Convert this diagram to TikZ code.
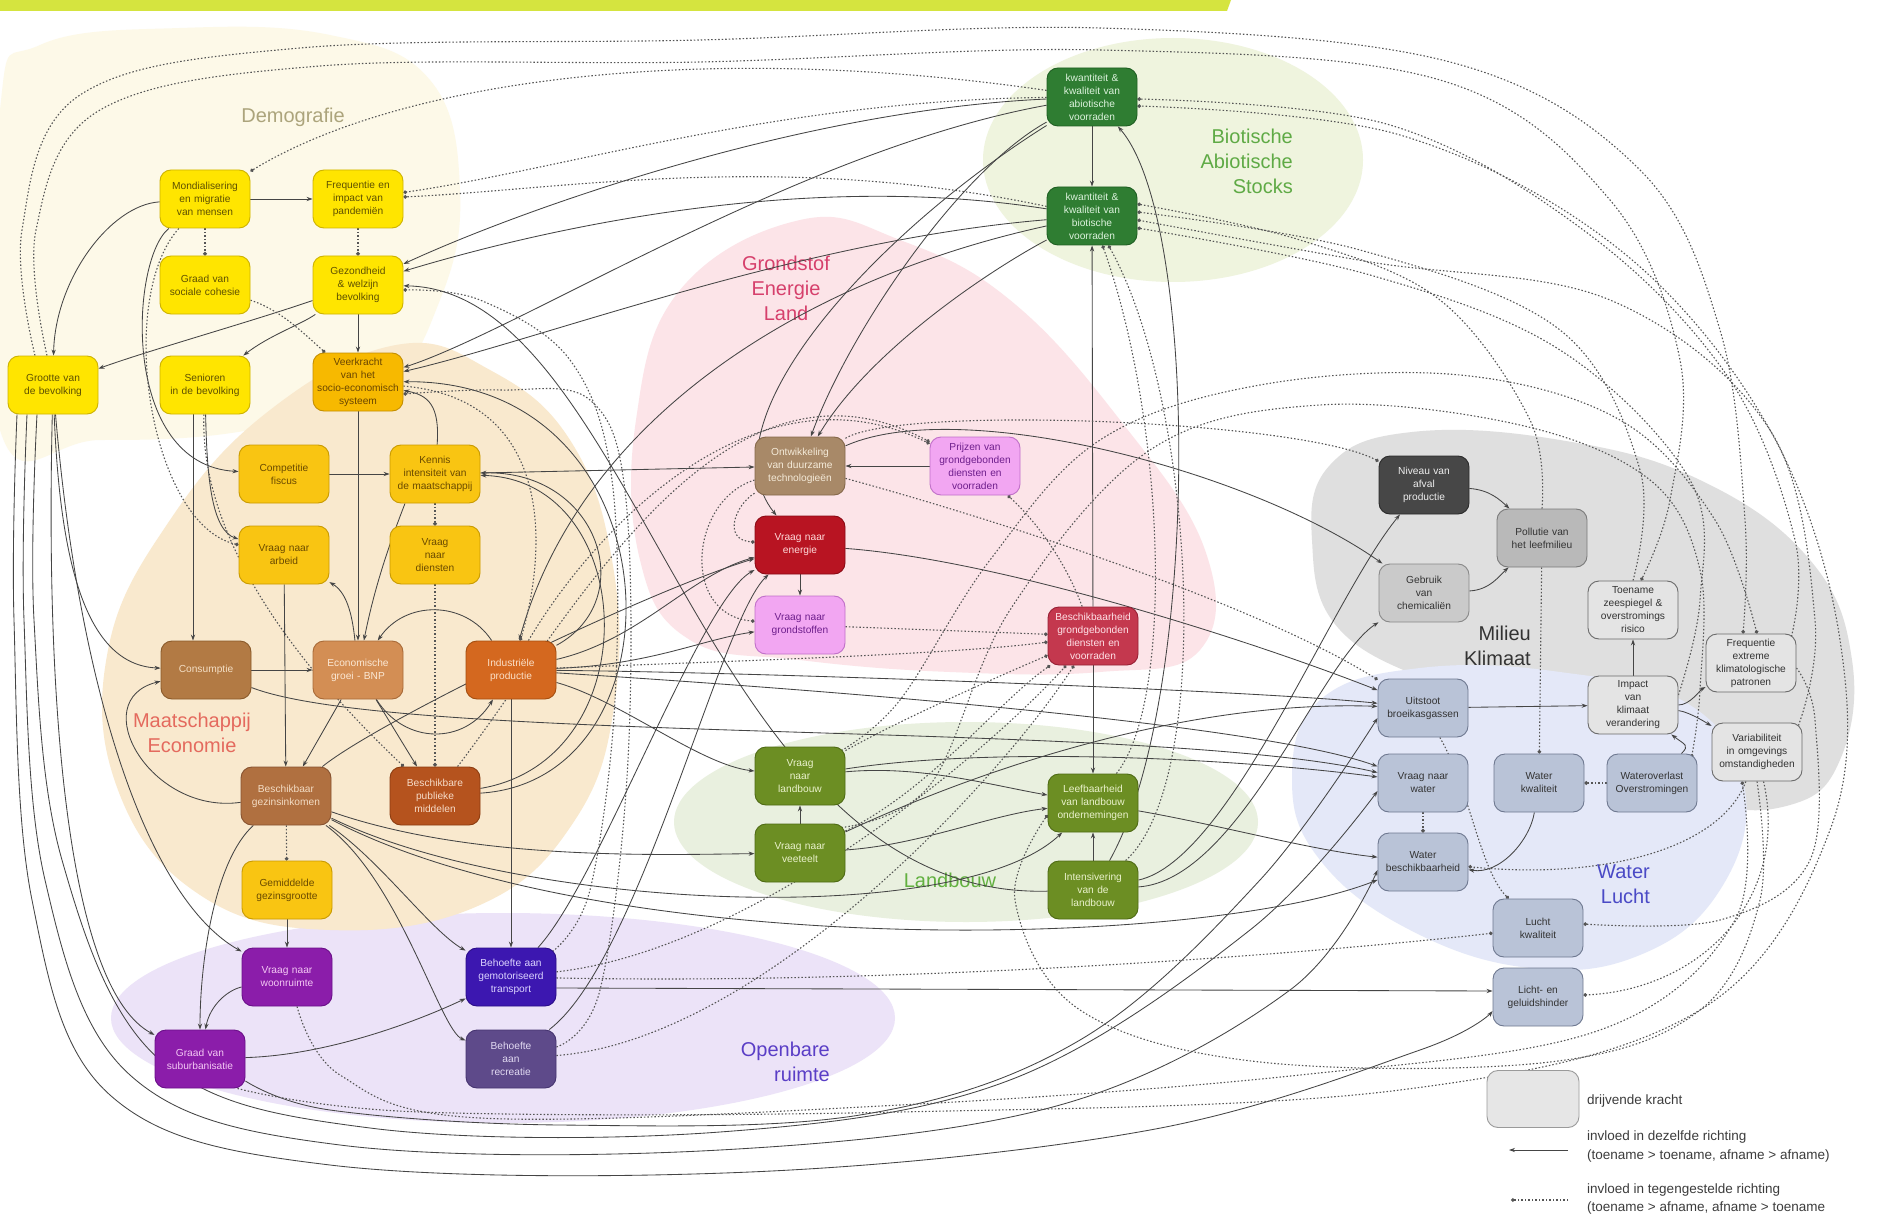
\documentclass[tikz,border=0pt]{standalone}
\usepackage{fontspec}
\setmainfont{Liberation Sans}
\usetikzlibrary{arrows.meta,calc}
\pgfdeclarelayer{bg}
\pgfdeclarelayer{edges}
\pgfsetlayers{bg,edges,main}
\definecolor{cBar}{HTML}{D5E43F}
\definecolor{cDemo}{HTML}{FDF9E8}
\definecolor{cEconBg}{HTML}{F9E9CE}
\definecolor{cGrondBg}{HTML}{FCE4E8}
\definecolor{cBioBg}{HTML}{EFF4DE}
\definecolor{cLandBg}{HTML}{E9F0DF}
\definecolor{cOpenBg}{HTML}{ECE3F8}
\definecolor{cMilBg}{HTML}{DFDFDF}
\definecolor{cWatBg}{HTML}{E4E8F8}
\definecolor{cDemoT}{HTML}{ACA47C}
\definecolor{cEconT}{HTML}{E46A5E}
\definecolor{cGrondT}{HTML}{D6406C}
\definecolor{cBioT}{HTML}{5FAA45}
\definecolor{cLandT}{HTML}{62B040}
\definecolor{cOpenT}{HTML}{5A3EC6}
\definecolor{cMilT}{HTML}{333333}
\definecolor{cWatT}{HTML}{4A4AC6}
\definecolor{cLine}{HTML}{454545}
\definecolor{cDash}{HTML}{555555}
\definecolor{cLeg}{HTML}{3C3C3C}
\definecolor{fYel}{HTML}{FFE500}\definecolor{dYel}{HTML}{CDB200}\definecolor{tYel}{HTML}{5E5000}
\definecolor{fVeer}{HTML}{F7B900}\definecolor{dVeer}{HTML}{C48E00}\definecolor{tVeer}{HTML}{6A4600}
\definecolor{fGold}{HTML}{F9C512}\definecolor{dGold}{HTML}{C99A00}\definecolor{tGold}{HTML}{6A4A00}
\definecolor{fCons}{HTML}{B27A44}\definecolor{dCons}{HTML}{8A5A2A}\definecolor{tCons}{HTML}{F3DEC4}
\definecolor{fEcon}{HTML}{D38E54}\definecolor{dEcon}{HTML}{A86A38}\definecolor{tEcon}{HTML}{FBE8D4}
\definecolor{fIndus}{HTML}{D4681F}\definecolor{dIndus}{HTML}{A44E10}\definecolor{tIndus}{HTML}{FBE0C8}
\definecolor{fInk}{HTML}{B07040}\definecolor{dInk}{HTML}{875230}\definecolor{tInk}{HTML}{F3DCC4}
\definecolor{fPubl}{HTML}{B5531E}\definecolor{dPubl}{HTML}{8C3C10}\definecolor{tPubl}{HTML}{F6DCC8}
\definecolor{fPurp}{HTML}{8B1DAA}\definecolor{dPurp}{HTML}{6A0F88}\definecolor{tPurp}{HTML}{F4C8F4}
\definecolor{fTransp}{HTML}{3C17B0}\definecolor{dTransp}{HTML}{2A0C88}\definecolor{tTransp}{HTML}{DCD4FF}
\definecolor{fRecr}{HTML}{5E4A8A}\definecolor{dRecr}{HTML}{463470}\definecolor{tRecr}{HTML}{E2DAF2}
\definecolor{fOntw}{HTML}{A88968}\definecolor{dOntw}{HTML}{85684A}\definecolor{tOntw}{HTML}{F4EAD8}
\definecolor{fPink}{HTML}{F2A6F2}\definecolor{dPink}{HTML}{C070C8}\definecolor{tPink}{HTML}{6E1E8C}
\definecolor{fEnerg}{HTML}{B81422}\definecolor{dEnerg}{HTML}{8A0A14}\definecolor{tEnerg}{HTML}{FFDADA}
\definecolor{fOlive}{HTML}{6C8E23}\definecolor{dOlive}{HTML}{4E6A14}\definecolor{tOlive}{HTML}{EAF2CC}
\definecolor{fBesch}{HTML}{C4384E}\definecolor{dBesch}{HTML}{961F34}\definecolor{tBesch}{HTML}{FFE2E8}
\definecolor{fGreen}{HTML}{2F7D32}\definecolor{dGreen}{HTML}{1E5E22}\definecolor{tGreen}{HTML}{DCF2DC}
\definecolor{fAfval}{HTML}{474747}\definecolor{dAfval}{HTML}{2A2A2A}\definecolor{tAfval}{HTML}{EEEEEE}
\definecolor{fPoll}{HTML}{B9B9B9}\definecolor{dPoll}{HTML}{7A7A7A}
\definecolor{fChem}{HTML}{CACACA}\definecolor{dChem}{HTML}{888888}
\definecolor{fClim}{HTML}{E4E4E4}\definecolor{dClim}{HTML}{6A6A6A}
\definecolor{fBlue}{HTML}{B9C3D7}\definecolor{dBlue}{HTML}{6E7890}
\definecolor{tDark}{HTML}{333333}
\definecolor{fLeg}{HTML}{E6E6E6}\definecolor{dLeg}{HTML}{9A9A9A}
\begin{document}
\begin{tikzpicture}[x=1pt,y=-1pt,
  box/.style={rounded corners=11pt, minimum width=90pt, minimum height=58pt, text width=88pt, inner sep=1pt, align=center, font=\fontsize{10.2}{13}\selectfont, line width=0.9pt},
  sYel/.style={fill=fYel,draw=dYel,text=tYel},
  sVeer/.style={fill=fVeer,draw=dVeer,text=tVeer},
  sGold/.style={fill=fGold,draw=dGold,text=tGold},
  sCons/.style={fill=fCons,draw=dCons,text=tCons},
  sEcon/.style={fill=fEcon,draw=dEcon,text=tEcon},
  sIndus/.style={fill=fIndus,draw=dIndus,text=tIndus},
  sInk/.style={fill=fInk,draw=dInk,text=tInk},
  sPubl/.style={fill=fPubl,draw=dPubl,text=tPubl},
  sPurp/.style={fill=fPurp,draw=dPurp,text=tPurp},
  sTransp/.style={fill=fTransp,draw=dTransp,text=tTransp},
  sRecr/.style={fill=fRecr,draw=dRecr,text=tRecr},
  sOntw/.style={fill=fOntw,draw=dOntw,text=tOntw},
  sPink/.style={fill=fPink,draw=dPink,text=tPink},
  sEnerg/.style={fill=fEnerg,draw=dEnerg,text=tEnerg},
  sOlive/.style={fill=fOlive,draw=dOlive,text=tOlive},
  sBesch/.style={fill=fBesch,draw=dBesch,text=tBesch},
  sGreen/.style={fill=fGreen,draw=dGreen,text=tGreen},
  sAfval/.style={fill=fAfval,draw=dAfval,text=tAfval},
  sPoll/.style={fill=fPoll,draw=dPoll,text=tDark},
  sChem/.style={fill=fChem,draw=dChem,text=tDark},
  sClim/.style={fill=fClim,draw=dClim,text=tDark},
  sBlue/.style={fill=fBlue,draw=dBlue,text=tDark},
  sl/.style={draw=cLine, line width=0.85pt, -{Stealth[length=6pt,width=4.2pt]}},
  dl/.style={draw=cDash, line width=1.1pt, dash pattern=on 1.5pt off 2pt, -{Circle[length=3.6pt]}},
  grp/.style={font=\fontsize{20}{25}\selectfont, inner sep=0pt},
  legt/.style={font=\fontsize{13.5}{16}\selectfont, text=cLeg, anchor=west, inner sep=0pt}
]
\useasboundingbox (0,0) rectangle (1883,1217);

% ---------------- backgrounds ----------------
\begin{pgfonlayer}{bg}
\fill[white] (0,0) rectangle (1883,1217);
\fill[cDemo] plot[smooth cycle, tension=0.7] coordinates {(0,110) (40,45) (180,28) (330,35) (430,80) (460,190) (440,300) (380,390) (250,430) (100,440) (0,430)};
\fill[cGrondBg] plot[smooth cycle, tension=0.7] coordinates {(800,220) (900,240) (1010,300) (1120,420) (1205,550) (1200,650) (1100,672) (950,672) (800,660) (690,640) (640,560) (636,420) (680,290)};
\fill[cBioBg] (1173,160) ellipse [x radius=190, y radius=122];
\fill[cLandBg] (966,822) ellipse [x radius=292, y radius=100];
\fill[cMilBg] plot[smooth cycle, tension=0.7] coordinates {(1312,540) (1330,465) (1412,432) (1560,440) (1700,480) (1810,560) (1852,660) (1840,760) (1790,805) (1700,800) (1580,740) (1450,690) (1340,630)};
\fill[cWatBg] plot[smooth cycle, tension=0.7] coordinates {(1292,780) (1320,700) (1420,668) (1560,672) (1690,705) (1745,790) (1720,890) (1640,955) (1530,968) (1410,930) (1320,860)};
\fill[cOpenBg] (503,1018) ellipse [x radius=392, y radius=105];
\fill[cEconBg] plot[smooth cycle, tension=0.7] coordinates {(396,345) (490,370) (570,440) (612,560) (615,700) (575,820) (480,905) (330,930) (200,895) (118,790) (108,650) (170,520) (270,410)};
\fill[cBar] (0,0) -- (1231,0) -- (1227,11) -- (0,11) -- cycle;
\node[grp, text=cDemoT] (lDemo) at (293,117) {Demografie};
\node[grp, text=cEconT, align=center] (lEcon) at (192,733) {Maatschappij\\Economie};
\node[grp, text=cGrondT, align=center] (lGrond) at (786,288) {Grondstof\\Energie\\Land};
\node[grp, text=cBioT, align=right, anchor=east] (lBio) at (1293,161) {Biotische\\Abiotische\\Stocks};
\node[grp, text=cLandT] (lLand) at (950,880) {Landbouw};
\node[grp, text=cOpenT, align=right, anchor=east] (lOpen) at (830,1062) {Openbare\\ruimte};
\node[grp, text=cMilT, align=right, anchor=east] (lMil) at (1531,646) {Milieu\\Klimaat};
\node[grp, text=cWatT, align=right, anchor=east] (lWat) at (1650,884) {Water\\Lucht};
\end{pgfonlayer}

% ---------------- nodes ----------------
\node[box,sYel] (mond) at (205,199) {Mondialisering\\en migratie\\van mensen};
\node[box,sYel] (freq) at (358,199) {Frequentie en\\impact van\\pandemiën};
\node[box,sYel] (cohes) at (205,285) {Graad van\\sociale cohesie};
\node[box,sYel] (gez) at (358,285) {Gezondheid\\\& welzijn\\bevolking};
\node[box,sYel] (groot) at (53,385) {Grootte van\\de bevolking};
\node[box,sYel] (sen) at (205,385) {Senioren\\in de bevolking};
\node[box,sVeer] (veer) at (358,382) {Veerkracht\\van het\\socio-economisch\\systeem};
\node[box,sGold] (comp) at (284,474) {Competitie\\fiscus};
\node[box,sGold] (kennis) at (435,474) {Kennis\\intensiteit van\\de maatschappij};
\node[box,sGold] (arbeid) at (284,555) {Vraag naar\\arbeid};
\node[box,sGold] (diensten) at (435,555) {Vraag\\naar\\diensten};
\node[box,sCons] (cons) at (206,670) {Consumptie};
\node[box,sEcon] (econ) at (358,670) {Economische\\groei - BNP};
\node[box,sIndus] (indus) at (511,670) {Industriële\\productie};
\node[box,sInk] (gezink) at (286,796) {Beschikbaar\\gezinsinkomen};
\node[box,sPubl] (publ) at (435,796) {Beschikbare\\publieke\\middelen};
\node[box,sGold] (gezgr) at (287,890) {Gemiddelde\\gezinsgrootte};
\node[box,sPurp] (woon) at (287,977) {Vraag naar\\woonruimte};
\node[box,sPurp] (suburb) at (200,1059) {Graad van\\suburbanisatie};
\node[box,sTransp] (transp) at (511,977) {Behoefte aan\\gemotoriseerd\\transport};
\node[box,sRecr] (recr) at (511,1059) {Behoefte\\aan\\recreatie};
\node[box,sOntw] (ontw) at (800,466) {Ontwikkeling\\van duurzame\\technologieën};
\node[box,sPink] (prijs) at (975,466) {Prijzen van\\grondgebonden\\diensten en\\voorraden};
\node[box,sEnerg] (energ) at (800,545) {Vraag naar\\energie};
\node[box,sPink] (grond) at (800,625) {Vraag naar\\grondstoffen};
\node[box,sOlive] (landb) at (800,776) {Vraag\\naar\\landbouw};
\node[box,sOlive] (veet) at (800,853) {Vraag naar\\veeteelt};
\node[box,sBesch] (beschik) at (1093,636) {Beschikbaarheid\\grondgebonden\\diensten en\\voorraden};
\node[box,sOlive] (leef) at (1093,803) {Leefbaarheid\\van landbouw\\ondernemingen};
\node[box,sOlive] (inten) at (1093,890) {Intensivering\\van de\\landbouw};
\node[box,sGreen] (abio) at (1092,97) {kwantiteit \&\\kwaliteit van\\abiotische\\voorraden};
\node[box,sGreen] (bio) at (1092,216) {kwantiteit \&\\kwaliteit van\\biotische\\voorraden};
\node[box,sAfval] (afval) at (1424,485) {Niveau van\\afval\\productie};
\node[box,sPoll] (pollut) at (1542,538) {Pollutie van\\het leefmilieu};
\node[box,sChem] (chem) at (1424,593) {Gebruik\\van\\chemicaliën};
\node[box,sClim] (zee) at (1633,610) {Toename\\zeespiegel \&\\overstromings\\risico};
\node[box,sClim] (freqex) at (1751,663) {Frequentie\\extreme\\klimatologische\\patronen};
\node[box,sClim] (impact) at (1633,705) {Impact\\van\\klimaat\\verandering};
\node[box,sClim] (variab) at (1757,752) {Variabiliteit\\in omgevings\\omstandigheden};
\node[box,sBlue] (uitst) at (1423,708) {Uitstoot\\broeikasgassen};
\node[box,sBlue] (vwater) at (1423,783) {Vraag naar\\water};
\node[box,sBlue] (wkwal) at (1539,783) {Water\\kwaliteit};
\node[box,sBlue] (woverl) at (1652,783) {Wateroverlast\\Overstromingen};
\node[box,sBlue] (wbesch) at (1423,862) {Water\\beschikbaarheid};
\node[box,sBlue] (lucht) at (1538,928) {Lucht\\kwaliteit};
\node[box,sBlue] (licht) at (1538,997) {Licht- en\\geluidshinder};

% legend
\node[box, fill=fLeg, draw=dLeg, minimum width=92pt, text width=90pt, minimum height=57pt] (legbox) at (1533,1099) {};
\node[legt] (leg1) at (1587,1101) {drijvende kracht};
\node[legt] (leg2a) at (1587,1137) {invloed in dezelfde richting};
\node[legt] (leg2b) at (1587,1156) {(toename > toename, afname > afname)};
\node[legt] (leg3a) at (1587,1190) {invloed in tegengestelde richting};
\node[legt] (leg3b) at (1587,1208) {(toename > afname, afname > toename};
\coordinate (lgA) at (1509,1150); \coordinate (lgB) at (1568,1150);
\coordinate (lgC) at (1511,1200); \coordinate (lgD) at (1568,1200);

% ---------------- edges ----------------
\begin{pgfonlayer}{edges}
\draw[sl] (lgB) -- (lgA);
\draw[dl] (lgD) -- (lgC);
% demografie / economie
\draw[sl] (mond) -- (freq);
\draw[sl] (mond) .. controls (110,205) and (55,280) .. (groot);
\draw[sl] (gez) .. controls (250,322) and (150,350) .. (groot);
\draw[sl] (gez) .. controls (300,325) and (270,335) .. (sen);
\draw[sl] (gez) -- (veer);
\draw[sl] (mond) .. controls (130,260) and (120,465) .. (comp);
\draw[sl] ($(sen.south)+(-12,0)$) -- ($(cons.north)+(-13,0)$);
\draw[sl] (sen) .. controls (207,480) and (212,530) .. (arbeid);
\draw[sl] (groot) .. controls (60,560) and (85,665) .. (cons);
\draw[sl] (groot) .. controls (80,700) and (150,900) .. (woon);
\draw[sl] (groot) .. controls (45,720) and (70,990) .. (suburb);
\draw[sl] (veer) -- (econ);
\draw[sl] (comp) -- (kennis);
\draw[sl] ($(kennis.south)+(-30,0)$) .. controls (383,560) and (372,600) .. (econ);
\draw[sl] (econ) .. controls (352,612) and (346,592) .. (arbeid);
\draw[sl] (arbeid) -- (gezink);
\draw[sl] (cons) -- (econ);
\draw[sl] (econ) -- (gezink);
\draw[sl] (econ) -- (publ);
\draw[sl] (indus) .. controls (465,600) and (405,600) .. (econ);
\draw[sl] (econ) .. controls (405,745) and (465,745) .. (indus);
\draw[sl] (gezink) .. controls (150,815) and (85,700) .. (cons);
\draw[sl] (gezgr) -- (woon);
\draw[sl] (gezink) .. controls (215,860) and (200,960) .. (suburb);
\draw[sl] (woon) .. controls (228,990) and (210,1005) .. (suburb);
\draw[sl] (suburb) .. controls (330,1055) and (420,1020) .. (transp);
\draw[sl] (gezink) .. controls (380,860) and (430,930) .. (transp);
\draw[sl] (gezink) .. controls (400,880) and (440,1030) .. (recr);
\draw[sl] (indus) -- (transp);
\draw[sl] (kennis) -- (ontw);
\draw[sl] (indus) .. controls (640,600) and (600,470) .. (kennis);
\draw[sl] (kennis) .. controls (440,405) and (428,395) .. (veer);
\draw[sl] (publ) .. controls (650,760) and (640,480) .. (kennis);
\draw[sl] (publ) .. controls (690,780) and (680,380) .. (veer);
\draw[sl] (indus) .. controls (640,640) and (690,575) .. (energ);
\draw[sl] (indus) .. controls (650,665) and (700,640) .. (grond);
\draw[sl] (indus) .. controls (750,672) and (1250,690) .. (uitst);
\draw[sl] (indus) .. controls (750,685) and (1250,720) .. (vwater);
\draw[sl] (indus) .. controls (620,700) and (700,765) .. (landb);
\draw[sl] (transp) .. controls (600,880) and (700,600) .. (energ);
\draw[sl] (recr) .. controls (640,960) and (720,620) .. (energ);
\draw[sl] (gezink) .. controls (380,720) and (650,590) .. (energ);
\draw[sl] (cons) .. controls (400,745) and (1150,720) .. (vwater);
\draw[sl] (gezink) .. controls (470,860) and (650,855) .. (veet);
\draw[sl] (gezink) .. controls (520,910) and (960,930) .. (leef);
\draw[sl] (gezink) .. controls (600,960) and (1200,950) .. (wbesch);
\draw[sl] (inten) .. controls (700,900) and (640,290) .. (gez);
% stocks
\draw[sl] (abio) -- (bio);
\draw[sl] (abio) .. controls (800,110) and (520,210) .. (gez);
\draw[sl] (bio) .. controls (800,170) and (540,230) .. (gez);
\draw[sl] (abio) .. controls (800,150) and (520,330) .. (veer);
\draw[sl] (bio) .. controls (800,240) and (540,340) .. (veer);
\draw[sl] (abio) .. controls (960,170) and (850,330) .. (ontw);
\draw[sl] (bio) .. controls (990,270) and (870,350) .. (ontw);
\draw[sl] (bio) .. controls (800,280) and (580,420) .. (indus);
\draw[sl] (abio) .. controls (880,230) and (700,420) .. (energ);
\draw[sl] (beschik) -- (bio);
\draw[sl] (inten) .. controls (1200,700) and (1200,220) .. (abio);
% land
\draw[sl] (beschik) -- (leef);
\draw[sl] (inten) -- (leef);
\draw[sl] (prijs) -- (ontw);
\draw[sl] (energ) -- (grond);
\draw[sl] (veet) -- (landb);
\draw[sl] (landb) .. controls (920,765) and (990,785) .. (leef);
\draw[sl] (veet) .. controls (920,845) and (990,815) .. (leef);
\draw[sl] (landb) .. controls (1000,745) and (1250,760) .. (vwater);
\draw[sl] (veet) .. controls (1000,760) and (1200,700) .. (uitst);
\draw[sl] (leef) .. controls (1220,825) and (1310,850) .. (wbesch);
\draw[sl] (inten) .. controls (1230,860) and (1330,600) .. (afval);
\draw[sl] (inten) .. controls (1240,880) and (1320,660) .. (chem);
\draw[sl] (energ) .. controls (1000,560) and (1250,640) .. (uitst);
\draw[sl] (ontw) .. controls (960,395) and (1250,470) .. (chem);
% climate / water
\draw[sl] (uitst) -- (impact);
\draw[sl] (afval) .. controls (1490,490) and (1500,500) .. (pollut);
\draw[sl] (chem) .. controls (1490,590) and (1500,575) .. (pollut);
\draw[sl] (impact) -- (zee);
\draw[sl] (impact) .. controls (1690,705) and (1700,690) .. (freqex);
\draw[sl] (impact) .. controls (1690,712) and (1710,725) .. (variab);
\draw[sl] (woverl) .. controls (1690,745) and (1685,745) .. (impact);
\draw[sl] (wkwal) .. controls (1530,840) and (1500,875) .. (wbesch);
\draw[sl] ($(transp.east)+(0,11)$) -- ($(licht.west)+(0,-6)$);
% bottom loops
\draw[sl] plot[smooth, tension=0.6] coordinates {($(groot.south)+(-36,0)$) (14,620) (32,900) (110,1095) (330,1165) (750,1172) (1150,1130) (1420,1050) ($(licht.west)+(0,14)$)};
\draw[sl] plot[smooth, tension=0.6] coordinates {($(groot.south)+(-26,0)$) (24,620) (45,880) (130,1075) (340,1145) (720,1150) (1060,1105) (1290,990) ($(wbesch.west)+(0,8)$)};
\draw[sl] plot[smooth, tension=0.6] coordinates {($(groot.south)+(-16,0)$) (34,620) (62,860) (160,1060) (370,1128) (720,1132) (1010,1080) (1250,930) ($(vwater.west)+(0,8)$)};
\draw[sl] plot[smooth, tension=0.6] coordinates {($(suburb.east)+(0,22)$) (330,1110) (560,1125) (860,1115) (1080,1040) (1260,880) ($(uitst.west)+(0,10)$)};

% dashed
\draw[dl] (mond) -- (cohes);
\draw[dl] (freq) -- (gez);
\draw[dl] (cohes) .. controls (280,310) and (300,330) .. (veer);
\draw[dl] (mond) .. controls (115,300) and (150,525) .. (arbeid);
\draw[dl] (sen) .. controls (200,520) and (270,640) .. (publ);
\draw[dl] (kennis) -- (diensten);
\draw[dl] (diensten) -- (publ);
\draw[dl] (gezink) -- (gezgr);
\draw[dl] (abio) .. controls (700,40) and (400,80) .. (mond);
\draw[dl] (abio) .. controls (780,100) and (560,170) .. (freq);
\draw[dl] (bio) .. controls (780,150) and (560,190) .. (freq);
\draw[dl] plot[smooth, tension=0.6] coordinates {($(groot.north)+(-18,0)$) (22,230) (80,95) (300,48) (700,40) (1100,28) (1450,62) (1640,170) (1720,330) (1745,520) ($(freqex.north)+(-8,0)$)};
\draw[dl] plot[smooth, tension=0.6] coordinates {($(groot.north)+(-6,0)$) (36,230) (100,110) (320,66) (700,62) (1100,50) (1440,80) (1610,200) (1680,360) (1670,500) ($(zee.north)+(8,0)$)};
\draw[dl] plot[smooth, tension=0.6] coordinates {($(freqex.north east)+(-5,3)$) (1795,540) (1730,380) (1590,235) (1390,125) ($(abio.east)+(0,2)$)};
\draw[dl] plot[smooth, tension=0.6] coordinates {($(suburb.south east)+(-8,0)$) (420,1112) (900,1112) (1400,1090) (1700,1010) (1830,830) (1840,640) (1770,430) (1620,250) (1400,135) ($(abio.east)+(0,9)$)};
\draw[dl] plot[smooth, tension=0.6] coordinates {(pollut.north) (1530,420) (1440,300) (1300,240) ($(bio.east)+(0,-12)$)};
\draw[dl] plot[smooth, tension=0.6] coordinates {(zee.north) (1640,470) (1560,330) (1360,250) ($(bio.east)+(0,-4)$)};
\draw[dl] plot[smooth, tension=0.6] coordinates {($(variab.north east)+(-4,3)$) (1815,620) (1770,430) (1610,300) (1370,262) ($(bio.east)+(0,4)$)};
\draw[dl] plot[smooth, tension=0.6] coordinates {($(impact.east)+(0,-10)$) (1700,600) (1690,480) (1560,350) (1370,275) ($(bio.east)+(0,12)$)};
\draw[dl] (leef) .. controls (1175,700) and (1165,420) .. (bio);
\draw[dl] (inten) .. controls (1215,780) and (1195,400) .. (bio);
\draw[dl] (landb) .. controls (900,720) and (990,680) .. (beschik);
\draw[dl] (veet) .. controls (930,790) and (1000,700) .. (beschik);
\draw[dl] (transp) .. controls (750,950) and (980,760) .. (beschik);
\draw[dl] (recr) .. controls (760,1040) and (1000,780) .. (beschik);
\draw[dl] (grond) -- (beschik);
\draw[dl] (indus) .. controls (700,662) and (950,655) .. (beschik);
\draw[dl] (beschik) .. controls (1065,560) and (1035,520) .. (prijs);
\draw[dl] (ontw) .. controls (735,505) and (722,540) .. (energ);
\draw[dl] (ontw) .. controls (690,500) and (680,615) .. (grond);
\draw[dl] (ontw) .. controls (900,405) and (1300,420) .. (afval);
\draw[dl] (ontw) .. controls (980,515) and (1250,600) .. (uitst);
\draw[dl] (indus) .. controls (600,520) and (760,360) .. (prijs);
\draw[dl] (publ) .. controls (570,620) and (720,330) .. (prijs);
\draw[dl] (veer) .. controls (560,400) and (545,560) .. (indus);
\draw[dl] plot[smooth, tension=0.6] coordinates {($(transp.north east)+(-4,4)$) (590,890) (615,700) (612,480) (570,360) (480,300) ($(gez.east)+(0,5)$)};
\draw[dl] plot[smooth, tension=0.6] coordinates {($(recr.east)+(0,-12)$) (600,990) (628,760) (626,500) (590,400) (500,390) ($(veer.east)+(0,12)$)};
\draw[dl] plot[smooth, tension=0.6] coordinates {($(landb.north east)+(-4,4)$) (900,700) (990,560) (1100,440) (1260,385) (1460,375) (1620,420) (1715,520) ($(freqex.north)+(6,0)$)};
\draw[dl] plot[smooth, tension=0.6] coordinates {($(veet.north east)+(-4,4)$) (930,785) (1010,610) (1150,450) (1320,405) (1520,425) (1650,480) (1700,570) (1700,690) ($(woverl.north east)+(-6,4)$)};
\draw[dl] (woverl) -- (wkwal);
\draw[dl] (pollut) -- (wkwal);
\draw[dl] (vwater) -- (wbesch);
\draw[dl] (uitst) .. controls (1470,790) and (1480,870) .. (lucht);
\draw[dl] (transp) .. controls (900,985) and (1300,955) .. (lucht);
\draw[dl] (variab) .. controls (1720,850) and (1600,880) .. (wbesch);
\draw[dl] plot[smooth, tension=0.6] coordinates {(variab.south) (1760,900) (1700,1010) (1550,1062) (1260,1062) (1080,1010) (1015,900) ($(leef.west)+(0,12)$)};
\draw[dl] plot[smooth, tension=0.6] coordinates {($(woon.south)+(10,0)$) (340,1075) (480,1118) (900,1105) (1300,1075) (1600,1030) (1735,920) ($(variab.south)+(-15,0)$)};
\draw[dl] (variab) .. controls (1790,900) and (1700,990) .. (licht);
\draw[dl] plot[smooth, tension=0.6] coordinates {($(freqex.east)+(0,5)$) (1815,720) (1810,860) (1720,920) ($(lucht.east)+(0,-4)$)};
\end{pgfonlayer}
\end{tikzpicture}
\end{document}
